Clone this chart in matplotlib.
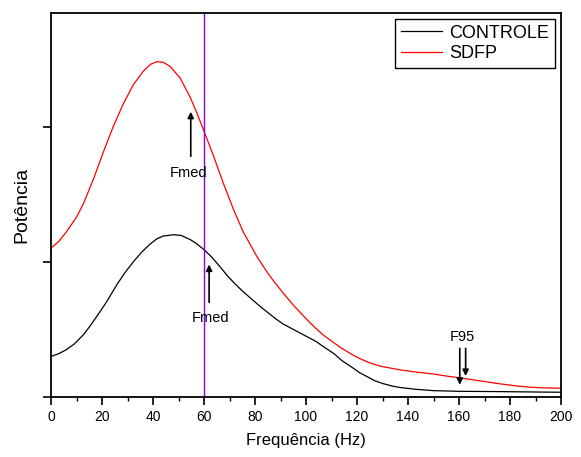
import numpy as np
import matplotlib
matplotlib.use('Agg')
import matplotlib.pyplot as plt
from matplotlib.ticker import MultipleLocator, NullFormatter

plt.rcParams['font.family'] = ['Liberation Sans', 'DejaVu Sans']

# SDFP (red) spectrum
x_sdfp = [0, 3, 6, 10, 12.7, 16.6, 20.5, 24.4, 28.4, 32.3, 36.2, 39, 41.5, 44,
          46.7, 50.6, 54.5, 57, 59.7, 63.6, 67.6, 71.5, 75.4, 80.7, 84.5, 87.2,
          91, 95, 98, 101, 104, 107, 111, 114, 118, 121, 124, 127, 130, 137,
          143, 150, 155, 161, 168, 175, 182, 188, 194, 200]
y_sdfp = [1.10, 1.15, 1.22, 1.33, 1.43, 1.61, 1.81, 2.00, 2.17, 2.31, 2.41, 2.46,
          2.48, 2.475, 2.445, 2.36, 2.22, 2.11, 1.98, 1.79, 1.58, 1.39, 1.22,
          1.04, 0.93, 0.86, 0.77, 0.68, 0.62, 0.56, 0.505, 0.455, 0.40, 0.36,
          0.315, 0.285, 0.26, 0.24, 0.225, 0.20, 0.185, 0.17, 0.155, 0.14, 0.12,
          0.10, 0.083, 0.072, 0.067, 0.065]

# CONTROLE (black) spectrum
x_ctrl = [0, 3, 6, 9, 12.7, 15.5, 19.2, 22, 25.8, 29, 32.3, 35.5, 38.8, 41.5,
          44, 48, 51, 54.5, 57, 60, 63, 66, 69, 72, 75, 78, 82, 85, 88, 91, 95,
          98, 101, 104, 107, 111, 114, 118, 121, 124, 127, 130, 134, 137, 143,
          150, 160, 175, 200]
y_ctrl = [0.30, 0.32, 0.35, 0.39, 0.46, 0.53, 0.63, 0.71, 0.83, 0.92, 1.00,
          1.07, 1.13, 1.17, 1.19, 1.20, 1.195, 1.165, 1.135, 1.09, 1.035, 0.97,
          0.90, 0.84, 0.785, 0.735, 0.67, 0.625, 0.58, 0.54, 0.50, 0.47, 0.44,
          0.41, 0.37, 0.32, 0.27, 0.22, 0.18, 0.15, 0.12, 0.10, 0.08, 0.07,
          0.057, 0.047, 0.042, 0.04, 0.035]

vline_x = 60

fig = plt.figure(figsize=(5.81, 4.57), dpi=100)
ax = fig.add_axes([0.0878, 0.1313, 0.8778, 0.8403])

ax.plot(x_ctrl, y_ctrl, color='black', lw=0.9, label='CONTROLE')
ax.plot(x_sdfp, y_sdfp, color='red', lw=0.9, label='SDFP')
ax.axvline(vline_x, color='#7f00ff', lw=1.0)

arrow = dict(arrowstyle='-|>', color='black', lw=1.2, mutation_scale=9,
             shrinkA=0, shrinkB=0)
# Fmed markers
ax.annotate('', xy=(54.8, 2.11), xytext=(54.8, 1.78), arrowprops=arrow)
ax.text(54, 1.66, 'Fmed', ha='center', va='center', fontsize=10.5)
ax.annotate('', xy=(62, 0.98), xytext=(62, 0.70), arrowprops=arrow)
ax.text(62.7, 0.585, 'Fmed', ha='center', va='center', fontsize=10.5)
# F95 markers
ax.annotate('', xy=(160.3, 0.09), xytext=(160.3, 0.36), arrowprops=arrow)
ax.annotate('', xy=(162.6, 0.155), xytext=(162.6, 0.36), arrowprops=arrow)
ax.text(161.3, 0.447, 'F95', ha='center', va='center', fontsize=10.5)

ax.set_xlim(0, 200)
ax.set_ylim(0, 2.84)
ax.xaxis.set_major_locator(MultipleLocator(20))
ax.xaxis.set_minor_locator(MultipleLocator(10))
ax.yaxis.set_major_locator(MultipleLocator(1))
ax.yaxis.set_major_formatter(NullFormatter())
ax.tick_params(axis='both', which='major', direction='out', length=6, width=1.2,
               labelsize=10)
ax.tick_params(axis='x', which='minor', direction='out', length=3, width=1.0)
for s in ax.spines.values():
    s.set_linewidth(1.3)

ax.set_xlabel('Frequência (Hz)', fontsize=12, labelpad=6)
ax.set_ylabel('Potência', fontsize=14, labelpad=5)

leg = ax.legend(loc='upper right', fontsize=13, frameon=True, fancybox=False,
                edgecolor='black', framealpha=1, borderaxespad=0.35,
                borderpad=0.3, labelspacing=0.2, handlelength=2.3,
                handletextpad=0.4)
leg.get_frame().set_linewidth(1.0)

plt.savefig('out.png', dpi=100)
